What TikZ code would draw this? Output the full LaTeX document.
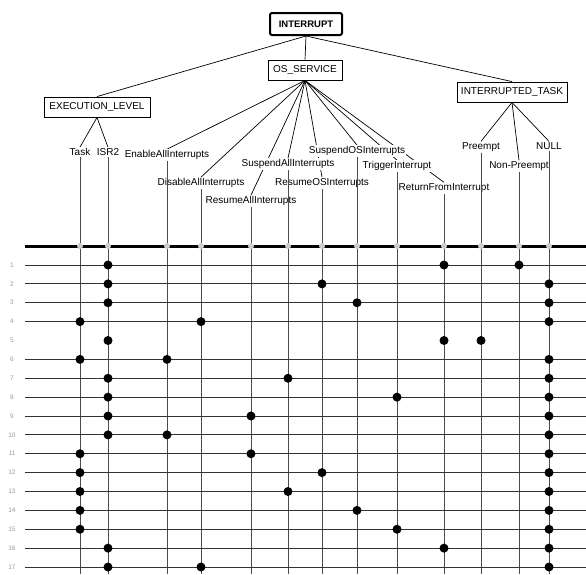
\documentclass[tikz,border=0pt]{standalone}
\usepackage{fontspec}
\setmainfont{Liberation Sans}
\usetikzlibrary{backgrounds}
\begin{document}
\begin{tikzpicture}[x=1pt,y=-1pt,every node/.style={font=\fontsize{10}{12}\selectfont},
  classbox/.style={draw,line width=0.9pt,fill=white,minimum width=#1,minimum height=20pt,inner sep=1pt},
  rootbox/.style={draw,line width=2pt,rounded corners=2pt,fill=white,minimum width=72pt,minimum height=22pt,inner sep=1pt,font=\bfseries\fontsize{9.5}{11}\selectfont},
  leaf/.style={fill=white,inner sep=1pt},
  edge/.style={line width=0.7pt},
  stem/.style={line width=0.9pt,black!70},
  rowline/.style={line width=0.9pt,black!80},
  hit/.style={circle,fill=black,inner sep=0pt,minimum size=9pt},
  joint/.style={circle,fill=gray!40,inner sep=0pt,minimum size=6pt},
  rownum/.style={font=\fontsize{6.5}{7}\selectfont,text=gray!80}]
\useasboundingbox (0,0) rectangle (586,574);
% classes
\node[rootbox] (root) at (306,24) {INTERRUPT};
\node[classbox=74pt] (ossvc) at (305,70) {OS\_SERVICE};
\node[classbox=106pt] (execlvl) at (97,107) {EXECUTION\_LEVEL};
\node[classbox=110pt] (inttask) at (512,92) {INTERRUPTED\_TASK};
% leaves
\node[leaf] (task) at (80,152) {Task};
\node[leaf] (isr) at (108,152) {ISR2};
\node[leaf] (enable) at (167,155) {EnableAllInterrupts};
\node[leaf] (suspendall) at (288,164) {SuspendAllInterrupts};
\node[leaf] (suspendos) at (357,151) {SuspendOSInterrupts};
\node[leaf] (trigger) at (397,166) {TriggerInterrupt};
\node[leaf] (disable) at (201,183) {DisableAllInterrupts};
\node[leaf] (resumeos) at (322,183) {ResumeOSInterrupts};
\node[leaf] (return) at (444,188) {ReturnFromInterrupt};
\node[leaf] (resumeall) at (251,201) {ResumeAllInterrupts};
\node[leaf] (preempt) at (481,147) {Preempt};
\node[leaf] (nonpreempt) at (519,166) {Non-Preempt};
\node[leaf] (null) at (549,146) {NULL};
% tree edges, behind the labels
\begin{scope}[on background layer]
\foreach \c in {ossvc,execlvl,inttask}
  \draw[edge] (root.south) -- (\c.north);
\foreach \c in {task,isr}
  \draw[edge] (execlvl.south) -- (\c.north);
\foreach \c in {enable,disable,resumeall,suspendall,resumeos,suspendos,trigger,return}
  \draw[edge] (ossvc.south) -- (\c.north);
\foreach \c in {preempt,nonpreempt,null}
  \draw[edge] (inttask.south) -- (\c.north);
\end{scope}
% combination table
\coordinate (bot) at (0,574);
\coordinate (right) at (586,0);
\coordinate (barl) at (25,246);
\foreach \c in {task,isr,enable,disable,resumeall,suspendall,resumeos,suspendos,trigger,return,preempt,nonpreempt,null}
  \draw[stem] (\c.south) -- (\c.south |- bot);
\foreach \i in {1,...,17} {
  \coordinate (r\i) at (25,{265+(\i-1)*18.875});
  \ifnum\i=5\else\draw[rowline] (r\i) -- (r\i -| right);\fi
  \node[rownum] (n\i) at (12,{265+(\i-1)*18.875}) {\i};
}
\draw[line width=3pt] (barl) -- (barl -| right);
\foreach \c in {task,isr,enable,disable,resumeall,suspendall,resumeos,suspendos,trigger,return,preempt,nonpreempt,null}
  \node[joint] (j\c) at (\c |- barl) {};
\foreach \i/\a/\b/\c in {1/isr/return/nonpreempt,2/isr/resumeos/null,3/isr/suspendos/null,
    4/task/disable/null,5/isr/return/preempt,6/task/enable/null,7/isr/suspendall/null,
    8/isr/trigger/null,9/isr/resumeall/null,10/isr/enable/null,11/task/resumeall/null,
    12/task/resumeos/null,13/task/suspendall/null,14/task/suspendos/null,15/task/trigger/null,
    16/isr/return/null,17/isr/disable/null}
  \foreach \k in {\a,\b,\c}
    \node[hit] (d\i\k) at (\k |- r\i) {};
\end{tikzpicture}
\end{document}
